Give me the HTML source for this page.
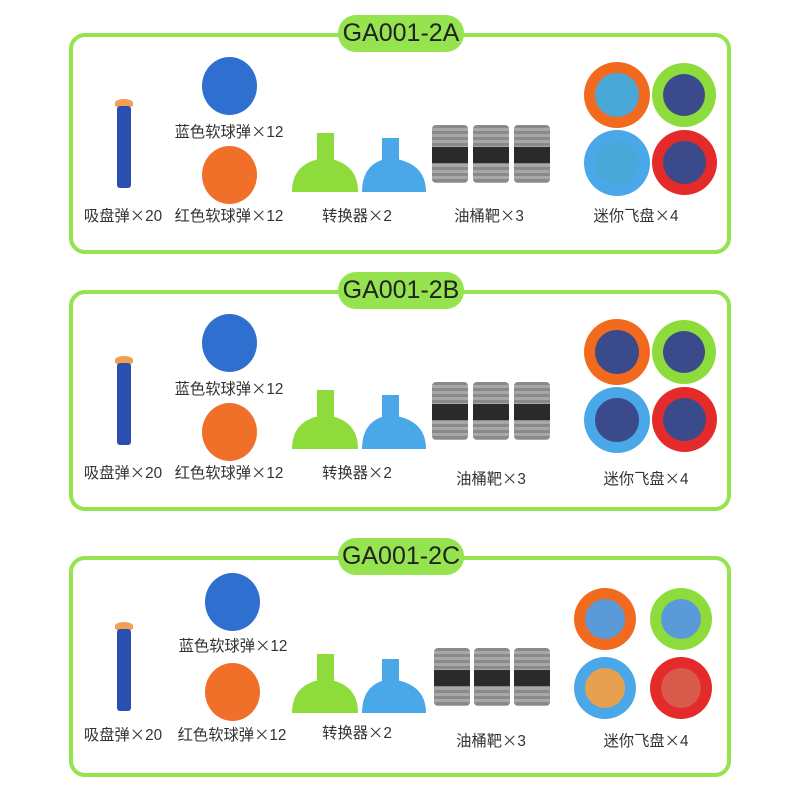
<!DOCTYPE html>
<html><head><meta charset="utf-8"><style>
body{margin:0;background:#fff;width:800px;height:800px;position:relative;overflow:hidden;font-family:"Liberation Sans","Noto Sans CJK SC",sans-serif;}
.p{position:absolute;left:0;width:800px;height:260px;}
.box{position:absolute;left:69px;top:33px;width:654px;height:213px;border:4px solid #94e34f;border-radius:16px;}
.pill{position:absolute;left:338px;top:15px;width:126px;height:37px;background:#94e34f;border-radius:18px;color:#222;font-size:25px;line-height:37px;text-align:center;}
.t{position:absolute;font-size:15.3px;color:#333;white-space:nowrap;transform:translateX(-50%);font-family:"Noto Sans CJK SC",sans-serif;}
.t b{font-weight:normal;font-family:"Liberation Sans",sans-serif;}
.ball{position:absolute;width:55px;height:58px;border-radius:50%;}
.dart{position:absolute;left:117px;top:106px;width:14px;height:82px;background:#2a4fae;border-radius:3px;}
.tip{position:absolute;left:115px;top:99px;width:18px;height:8px;background:#f0a050;border-radius:50% 50% 20% 20%;}
.bar{position:absolute;top:125px;width:36px;height:58px;background:repeating-linear-gradient(#8a8a8a 0 3px,#a8a8a8 3px 6px);border-radius:4px;}
.bar:after{content:"";position:absolute;left:0;right:0;top:22px;height:16px;background:#2a2a2a;}
.disc{position:absolute;border-radius:50%;}
.disc i{position:absolute;left:17%;top:17%;width:66%;height:66%;border-radius:50%;background:#3a4a8a;}
</style></head><body>

<div class="p" style="top:0">
<div class="box"></div><div class="pill">GA001-2A</div>
<div class="tip"></div><div class="dart"></div>
<div class="ball" style="left:202px;top:57px;background:#2f6fcf"></div>
<div class="ball" style="left:202px;top:146px;background:#f0702a"></div>
<svg style="position:absolute;left:290px;top:130px" width="142" height="66"><rect x="27" y="3" width="17" height="32" fill="#8edc3c"/><path d="M2 62 Q2 32 35 28 Q68 32 68 62Z" fill="#8edc3c"/><rect x="92" y="8" width="17" height="28" fill="#4aa8e8"/><path d="M72 62 Q72 32 100 28 Q136 32 136 62Z" fill="#4aa8e8"/></svg>
<div class="bar" style="left:432px"></div><div class="bar" style="left:473px"></div><div class="bar" style="left:514px"></div>
<div class="disc" style="left:584px;top:62px;width:66px;height:66px;background:#f26a1e"><i style="background:#4aa8d8"></i></div>
<div class="disc" style="left:652px;top:63px;width:64px;height:64px;background:#8edc3c"><i></i></div>
<div class="disc" style="left:584px;top:130px;width:66px;height:66px;background:#4aa8e8"><i style="background:#4aa8d8"></i></div>
<div class="disc" style="left:652px;top:130px;width:65px;height:65px;background:#e52a2a"><i></i></div>
<div class="t" style="left:229px;top:120px">蓝色软球弹×<b>12</b></div>
<div class="t" style="left:123px;top:204px">吸盘弹×<b>20</b></div>
<div class="t" style="left:229px;top:204px">红色软球弹×<b>12</b></div>
<div class="t" style="left:357px;top:204px">转换器×<b>2</b></div>
<div class="t" style="left:489px;top:204px">油桶靶×<b>3</b></div>
<div class="t" style="left:636px;top:204px">迷你飞盘×<b>4</b></div>
</div>

<div class="p" style="top:257px">
<div class="box"></div><div class="pill">GA001-2B</div>
<div class="tip"></div><div class="dart"></div>
<div class="ball" style="left:202px;top:57px;background:#2f6fcf"></div>
<div class="ball" style="left:202px;top:146px;background:#f0702a"></div>
<svg style="position:absolute;left:290px;top:130px" width="142" height="66"><rect x="27" y="3" width="17" height="32" fill="#8edc3c"/><path d="M2 62 Q2 32 35 28 Q68 32 68 62Z" fill="#8edc3c"/><rect x="92" y="8" width="17" height="28" fill="#4aa8e8"/><path d="M72 62 Q72 32 100 28 Q136 32 136 62Z" fill="#4aa8e8"/></svg>
<div class="bar" style="left:432px"></div><div class="bar" style="left:473px"></div><div class="bar" style="left:514px"></div>
<div class="disc" style="left:584px;top:62px;width:66px;height:66px;background:#f26a1e"><i></i></div>
<div class="disc" style="left:652px;top:63px;width:64px;height:64px;background:#8edc3c"><i></i></div>
<div class="disc" style="left:584px;top:130px;width:66px;height:66px;background:#4aa8e8"><i></i></div>
<div class="disc" style="left:652px;top:130px;width:65px;height:65px;background:#e52a2a"><i></i></div>
<div class="t" style="left:229px;top:120px">蓝色软球弹×<b>12</b></div>
<div class="t" style="left:123px;top:204px">吸盘弹×<b>20</b></div>
<div class="t" style="left:229px;top:204px">红色软球弹×<b>12</b></div>
<div class="t" style="left:357px;top:204px">转换器×<b>2</b></div>
<div class="t" style="left:491px;top:210px">油桶靶×<b>3</b></div>
<div class="t" style="left:646px;top:210px">迷你飞盘×<b>4</b></div>
</div>

<div class="p" style="top:523px">
<div class="box"></div><div class="pill">GA001-2C</div>
<div class="tip"></div><div class="dart"></div>
<div class="ball" style="left:205px;top:50px;background:#2f6fcf"></div>
<div class="ball" style="left:205px;top:140px;background:#f0702a"></div>
<svg style="position:absolute;left:290px;top:128px" width="142" height="66"><rect x="27" y="3" width="17" height="32" fill="#8edc3c"/><path d="M2 62 Q2 32 35 28 Q68 32 68 62Z" fill="#8edc3c"/><rect x="92" y="8" width="17" height="28" fill="#4aa8e8"/><path d="M72 62 Q72 32 100 28 Q136 32 136 62Z" fill="#4aa8e8"/></svg>
<div class="bar" style="left:434px"></div><div class="bar" style="left:474px"></div><div class="bar" style="left:514px"></div>
<div class="disc" style="left:574px;top:65px;width:62px;height:62px;background:#f26a1e"><i style="background:#5a9ad8"></i></div>
<div class="disc" style="left:650px;top:65px;width:62px;height:62px;background:#8edc3c"><i style="background:#5a9ad8"></i></div>
<div class="disc" style="left:574px;top:134px;width:62px;height:62px;background:#4aa8e8"><i style="background:#e8a050"></i></div>
<div class="disc" style="left:650px;top:134px;width:62px;height:62px;background:#e52a2a"><i style="background:#d85a4a"></i></div>
<div class="t" style="left:233px;top:111px">蓝色软球弹×<b>12</b></div>
<div class="t" style="left:123px;top:200px">吸盘弹×<b>20</b></div>
<div class="t" style="left:232px;top:200px">红色软球弹×<b>12</b></div>
<div class="t" style="left:357px;top:198px">转换器×<b>2</b></div>
<div class="t" style="left:491px;top:206px">油桶靶×<b>3</b></div>
<div class="t" style="left:646px;top:206px">迷你飞盘×<b>4</b></div>
</div>
</body></html>
